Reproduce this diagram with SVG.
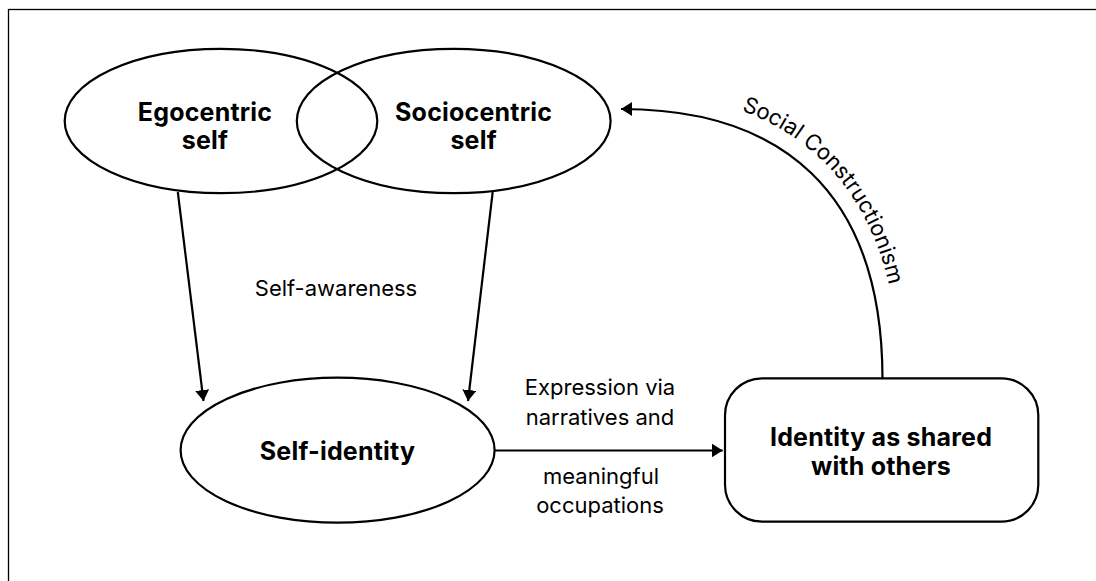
<svg xmlns="http://www.w3.org/2000/svg" width="1096" height="581" viewBox="0 0 1096 581">
<style>
.shape{fill:none;stroke:#000;stroke-width:2.2}
.bold{font-family:Inter,"Liberation Sans",sans-serif;font-weight:700;font-size:25px;letter-spacing:0.2px;fill:#000;text-anchor:middle}
.lbl{font-family:Inter,"Liberation Sans",sans-serif;font-weight:400;font-size:22px;fill:#000;text-anchor:middle}
.conn{fill:none;stroke:#000;stroke-width:2.2}
</style>
<defs>
<marker id="arr" markerUnits="userSpaceOnUse" markerWidth="11" markerHeight="14" refX="11" refY="7" orient="auto">
<path d="M0,0 L11,7 L0,14 z" fill="#000"/>
</marker>
<path id="scPath" d="M 632 93 C 795 93, 899 190, 899 378"/>
</defs>
<rect x="8.5" y="9.5" width="1100" height="600" fill="none" stroke="#000" stroke-width="1.3"/>
<g id="egocentric">
<ellipse class="shape" cx="221" cy="121" rx="156.3" ry="72.2"/>
<text class="bold" x="205" y="120.7">Egocentric</text>
<text class="bold" x="205" y="149">self</text>
</g>
<g id="sociocentric">
<ellipse class="shape" cx="453.7" cy="121" rx="156.9" ry="72.2"/>
<text class="bold" x="473.6" y="120.7">Sociocentric</text>
<text class="bold" x="473.6" y="149">self</text>
</g>
<g id="self-identity">
<ellipse class="shape" cx="337.6" cy="450.2" rx="157" ry="72.5"/>
<text class="bold" x="337.5" y="460">Self-identity</text>
</g>
<g id="shared-identity">
<rect class="shape" x="725" y="378.3" width="313.3" height="143.4" rx="37" ry="37"/>
<text class="bold" x="881" y="445.7">Identity as shared</text>
<text class="bold" x="881" y="475">with others</text>
</g>
<g id="connectors">
<line class="conn" x1="177.8" y1="192" x2="203.5" y2="401" marker-end="url(#arr)"/>
<line class="conn" x1="492.7" y1="192" x2="468" y2="401" marker-end="url(#arr)"/>
<line class="conn" x1="494.6" y1="450.5" x2="722.7" y2="450.5" marker-end="url(#arr)"/>
<path class="conn" d="M 882.5 378 C 882 190, 780 109, 621 109" marker-end="url(#arr)"/>
<text class="lbl" x="336" y="296">Self-awareness</text>
<text class="lbl" x="600" y="395">Expression via</text>
<text class="lbl" x="600" y="425">narratives and</text>
<text class="lbl" x="601" y="484">meaningful</text>
<text class="lbl" x="600" y="513">occupations</text>
<text class="lbl" font-size="20.5"><textPath href="#scPath" startOffset="52%">Social Constructionism</textPath></text>
</g>
</svg>
